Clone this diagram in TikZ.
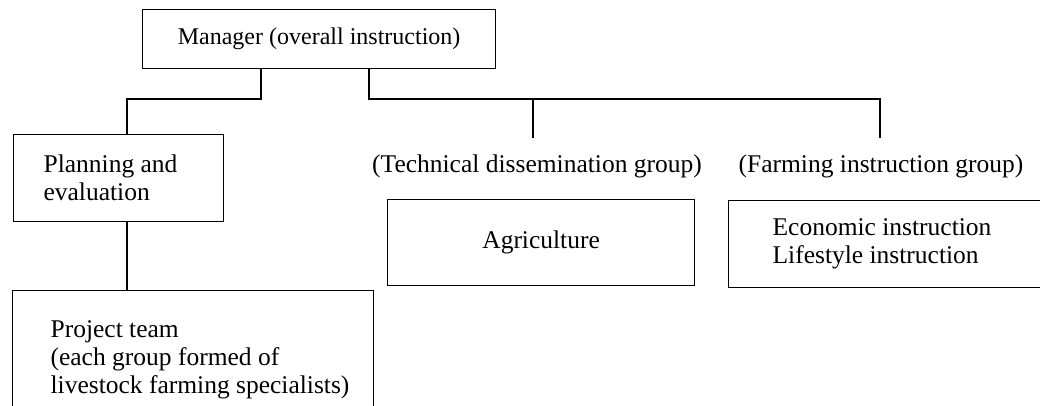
\documentclass[tikz,border=0pt]{standalone}
\usepackage{fontspec}
\setmainfont{Liberation Serif}
\begin{document}
\begin{tikzpicture}[x=1pt,y=-1pt,
  font=\fontsize{25.5}{28}\selectfont,
  line width=1.2pt,
  orgbox/.style={draw, line width=1.2pt, rectangle, anchor=north west},
  grplabel/.style={inner sep=0pt}]
\useasboundingbox (0,0) rectangle (1040,406);
\clip (0,0) rectangle (1040,406);
% boxes
\node[orgbox, minimum width=353, minimum height=59, font=\fontsize{24}{28}\selectfont] (mgr) at (142,9) {Manager (overall instruction)};
\node[orgbox, minimum height=87, text width=150, inner xsep=30, align=flush left] (plan) at (13,134) {Planning and\\evaluation};
\node[orgbox, text width=285, inner xsep=38, inner ysep=30, align=flush left] (proj) at (12,290) {Project team\\(each group formed of\\\mbox{livestock farming specialists)}\rule[-80pt]{0pt}{0pt}};
\node[orgbox, minimum width=307, minimum height=86] (agri) at (387,199) {Agriculture};
\node[orgbox, minimum height=87, text width=360, inner xsep=44, align=flush left] (econ) at (728,200) {Economic instruction\\Lifestyle instruction};
% group labels
\node[grplabel] (tech) at (537,166) {(Technical dissemination group)};
\node[grplabel] (farm) at (881,166) {(Farming instruction group)};
% junctions
\coordinate (jL) at (261,99);
\coordinate (jLL) at (127,99);
\coordinate (jR) at (369,99);
\coordinate (jT) at (533,99);
\coordinate (jF) at (880,99);
\coordinate (eT) at (533,138);
\coordinate (eF) at (880,138);
% connectors
\draw (mgr.south -| jL) -- (jL) -- (jLL) -- (plan.north -| jLL);
\draw (mgr.south -| jR) -- (jR) -- (jF) -- (eF);
\draw (jT) -- (eT);
\draw (plan.south -| jLL) -- (proj.north -| jLL);
\end{tikzpicture}
\end{document}
